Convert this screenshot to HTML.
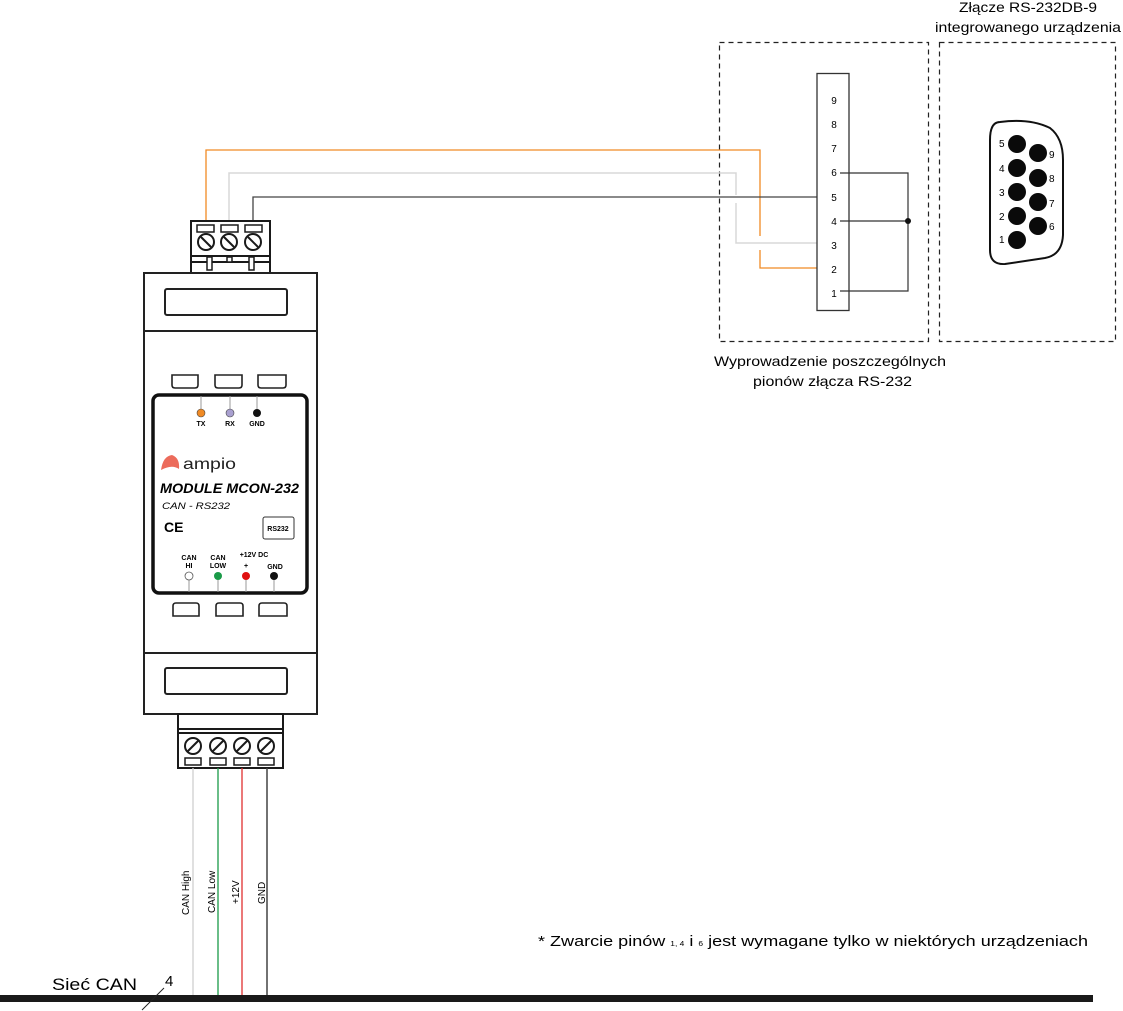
<!DOCTYPE html>
<html><head><meta charset="utf-8"><style>
html,body{margin:0;padding:0;background:#fff;}
svg{display:block;font-family:"Liberation Sans",sans-serif;}
</style></head><body>
<svg width="1123" height="1011" viewBox="0 0 1123 1011" xmlns="http://www.w3.org/2000/svg">
<!-- dashed boxes -->
<g fill="none" stroke="#222" stroke-width="1.2" stroke-dasharray="5,4">
<rect x="719.5" y="42.5" width="209" height="299"/>
<rect x="939.5" y="42.5" width="176" height="299"/>
</g>
<text x="1028" y="12" font-size="14" text-anchor="middle" textLength="138" lengthAdjust="spacingAndGlyphs">Złącze RS-232DB-9</text>
<text x="1028" y="32" font-size="14" text-anchor="middle" textLength="186" lengthAdjust="spacingAndGlyphs">integrowanego urządzenia</text>
<text x="714" y="366" font-size="14" textLength="232" lengthAdjust="spacingAndGlyphs">Wyprowadzenie poszczególnych</text>
<text x="753" y="386" font-size="14" textLength="159" lengthAdjust="spacingAndGlyphs">pionów złącza RS-232</text>

<!-- top wires -->
<polyline points="206,228 206,150 760,150 760,236" fill="none" stroke="#f08a24" stroke-width="1.3"/>
<polyline points="760,250 760,268 825,268" fill="none" stroke="#f08a24" stroke-width="1.3"/>
<polyline points="229,228 229,173 736,173 736,195" fill="none" stroke="#d8d8d8" stroke-width="1.5"/>
<polyline points="736,203 736,243 825,243" fill="none" stroke="#d8d8d8" stroke-width="1.5"/>
<polyline points="253,228 253,197 825,197" fill="none" stroke="#444" stroke-width="1.3"/>

<!-- pin box -->
<rect x="817" y="73.5" width="32" height="237" fill="#fff" stroke="#333" stroke-width="1.3"/>
<g font-size="10" text-anchor="middle">
<text x="834" y="104">9</text><text x="834" y="128">8</text><text x="834" y="152">7</text>
<text x="834" y="176">6</text><text x="834" y="201">5</text><text x="834" y="225">4</text>
<text x="834" y="249">3</text><text x="834" y="273">2</text><text x="834" y="297">1</text>
</g>
<polyline points="840,173 908,173 908,291 840,291" fill="none" stroke="#333" stroke-width="1.2"/>
<line x1="840" y1="221" x2="908" y2="221" stroke="#333" stroke-width="1.2"/>
<circle cx="908" cy="221" r="3" fill="#111"/>

<!-- DB9 -->
<path d="M1000,122 Q1030,118 1050,128 Q1063,138 1063,160 L1063,235 Q1062,255 1045,258 L1005,264 Q990,265 990,250 L990,140 Q990,122 1000,122 Z" fill="#fff" stroke="#111" stroke-width="2"/>
<g fill="#0a0a0a">
<circle cx="1017" cy="144" r="9"/><circle cx="1017" cy="168" r="9"/><circle cx="1017" cy="192" r="9"/><circle cx="1017" cy="216" r="9"/><circle cx="1017" cy="240" r="9"/>
<circle cx="1038" cy="153" r="9"/><circle cx="1038" cy="178" r="9"/><circle cx="1038" cy="202" r="9"/><circle cx="1038" cy="226" r="9"/>
</g>
<g font-size="10">
<text x="999" y="147">5</text><text x="999" y="172">4</text><text x="999" y="196">3</text><text x="999" y="220">2</text><text x="999" y="243">1</text>
<text x="1049" y="158">9</text><text x="1049" y="182">8</text><text x="1049" y="207">7</text><text x="1049" y="230">6</text>
</g>

<!-- top terminal -->
<g stroke="#1a1a1a" fill="#fff" stroke-width="2">
<rect x="191" y="221" width="79" height="52"/>
<line x1="191" y1="256" x2="270" y2="256"/>
<line x1="191" y1="262" x2="270" y2="262"/>
<rect x="197" y="225" width="17" height="7" stroke-width="1.5"/>
<rect x="221" y="225" width="17" height="7" stroke-width="1.5"/>
<rect x="245" y="225" width="17" height="7" stroke-width="1.5"/>
<circle cx="206" cy="242" r="8"/><circle cx="229" cy="242" r="8"/><circle cx="253" cy="242" r="8"/>
<line x1="201" y1="237" x2="211" y2="247"/><line x1="224" y1="237" x2="234" y2="247"/><line x1="248" y1="237" x2="258" y2="247"/>
<rect x="207" y="257" width="5" height="13" stroke-width="1.5"/><rect x="227" y="257" width="5" height="5" stroke-width="1.5"/><rect x="249" y="257" width="5" height="13" stroke-width="1.5"/>
</g>

<!-- module body -->
<g stroke="#222" fill="#fff" stroke-width="2">
<rect x="144" y="273" width="173" height="441"/>
<line x1="144" y1="331" x2="317" y2="331"/>
<line x1="144" y1="653" x2="317" y2="653"/>
<rect x="165" y="289" width="122" height="26" rx="2"/>
<rect x="165" y="668" width="122" height="26" rx="2"/>
<path d="M172,375 h26 v10 q0,3 -3,3 h-20 q-3,0 -3,-3 z" stroke-width="1.6"/>
<path d="M215,375 h27 v10 q0,3 -3,3 h-21 q-3,0 -3,-3 z" stroke-width="1.6"/>
<path d="M258,375 h28 v10 q0,3 -3,3 h-22 q-3,0 -3,-3 z" stroke-width="1.6"/>
<path d="M173,616 v-10 q0,-3 3,-3 h20 q3,0 3,3 v10 z" stroke-width="1.6"/>
<path d="M216,616 v-10 q0,-3 3,-3 h21 q3,0 3,3 v10 z" stroke-width="1.6"/>
<path d="M259,616 v-10 q0,-3 3,-3 h22 q3,0 3,3 v10 z" stroke-width="1.6"/>
<rect x="153" y="395" width="154" height="198" rx="6" stroke="#111" stroke-width="3.5"/>
</g>
<!-- panel content -->
<g stroke="#999" stroke-width="1"><line x1="201" y1="396" x2="201" y2="410"/><line x1="230" y1="396" x2="230" y2="410"/><line x1="257" y1="396" x2="257" y2="410"/>
<line x1="189" y1="578" x2="189" y2="592"/><line x1="218" y1="578" x2="218" y2="592"/><line x1="246" y1="578" x2="246" y2="592"/><line x1="274" y1="578" x2="274" y2="592"/></g>
<circle cx="201" cy="413" r="4" fill="#f08a24" stroke="#444" stroke-width=".6"/>
<circle cx="230" cy="413" r="4" fill="#a9a0d0" stroke="#444" stroke-width=".6"/>
<circle cx="257" cy="413" r="4" fill="#111"/>
<g font-size="7" font-weight="bold" text-anchor="middle">
<text x="201" y="426">TX</text><text x="230" y="426">RX</text><text x="257" y="426">GND</text>
<text x="189" y="560">CAN</text><text x="189" y="568">HI</text>
<text x="218" y="560">CAN</text><text x="218" y="568">LOW</text>
<text x="254" y="557">+12V DC</text><text x="246" y="568">+</text>
<text x="275" y="569">GND</text>
</g>
<circle cx="189" cy="576" r="4" fill="#fff" stroke="#555" stroke-width=".8"/>
<circle cx="218" cy="576" r="4" fill="#1a9a48"/>
<circle cx="246" cy="576" r="4" fill="#e01010"/>
<circle cx="274" cy="576" r="4" fill="#111"/>
<path d="M161,470 Q163,456 172,455 Q180,458 179,469 Q172,464 161,470 Z" fill="#ec6b5b"/>
<text x="183" y="469" font-size="16" fill="#222" textLength="53" lengthAdjust="spacingAndGlyphs">ampio</text>
<text x="160" y="493" font-size="14" font-weight="bold" font-style="italic" textLength="139" lengthAdjust="spacingAndGlyphs">MODULE MCON-232</text>
<text x="162" y="509" font-size="9" font-style="italic" textLength="68" lengthAdjust="spacingAndGlyphs">CAN - RS232</text>
<text x="164" y="532" font-size="14" font-weight="bold">CE</text>
<rect x="263" y="517" width="31" height="22" rx="2" fill="#fff" stroke="#333" stroke-width="1"/>
<text x="278" y="531" font-size="7" font-weight="bold" text-anchor="middle">RS232</text>

<!-- bottom terminal -->
<g stroke="#1a1a1a" fill="#fff" stroke-width="2">
<rect x="178" y="714" width="105" height="54"/>
<line x1="178" y1="729" x2="283" y2="729"/>
<line x1="178" y1="733" x2="283" y2="733"/>
<circle cx="193" cy="746" r="8"/><circle cx="218" cy="746" r="8"/><circle cx="242" cy="746" r="8"/><circle cx="266" cy="746" r="8"/>
<line x1="199" y1="740" x2="187" y2="752"/><line x1="224" y1="740" x2="212" y2="752"/><line x1="248" y1="740" x2="236" y2="752"/><line x1="272" y1="740" x2="260" y2="752"/>
<rect x="185" y="758" width="16" height="7" stroke-width="1.5"/><rect x="210" y="758" width="16" height="7" stroke-width="1.5"/><rect x="234" y="758" width="16" height="7" stroke-width="1.5"/><rect x="258" y="758" width="16" height="7" stroke-width="1.5"/>
</g>
<!-- bottom wires -->
<line x1="193" y1="768" x2="193" y2="995" stroke="#d0d0d0" stroke-width="1.3"/>
<line x1="218" y1="768" x2="218" y2="995" stroke="#1a9a48" stroke-width="1.3"/>
<line x1="242" y1="768" x2="242" y2="995" stroke="#e03030" stroke-width="1.3"/>
<line x1="267" y1="768" x2="267" y2="995" stroke="#444" stroke-width="1.5"/>
<g font-size="10">
<text transform="translate(189,915) rotate(-90)">CAN High</text>
<text transform="translate(215,913) rotate(-90)">CAN Low</text>
<text transform="translate(239,904) rotate(-90)">+12V</text>
<text transform="translate(265,904) rotate(-90)">GND</text>
</g>
<rect x="0" y="995" width="1093" height="7" fill="#1a1a1a"/>
<line x1="142" y1="1010" x2="164" y2="988" stroke="#222" stroke-width="1"/>
<text x="52" y="990" font-size="17" textLength="85" lengthAdjust="spacingAndGlyphs">Sieć CAN</text>
<text x="165" y="986" font-size="15">4</text>
<text x="538" y="946" font-size="15" textLength="550" lengthAdjust="spacingAndGlyphs">* Zwarcie pinów <tspan font-size="7">1, 4</tspan> i <tspan font-size="7">6</tspan> jest wymagane tylko w niektórych urządzeniach</text>
</svg>
</body></html>
